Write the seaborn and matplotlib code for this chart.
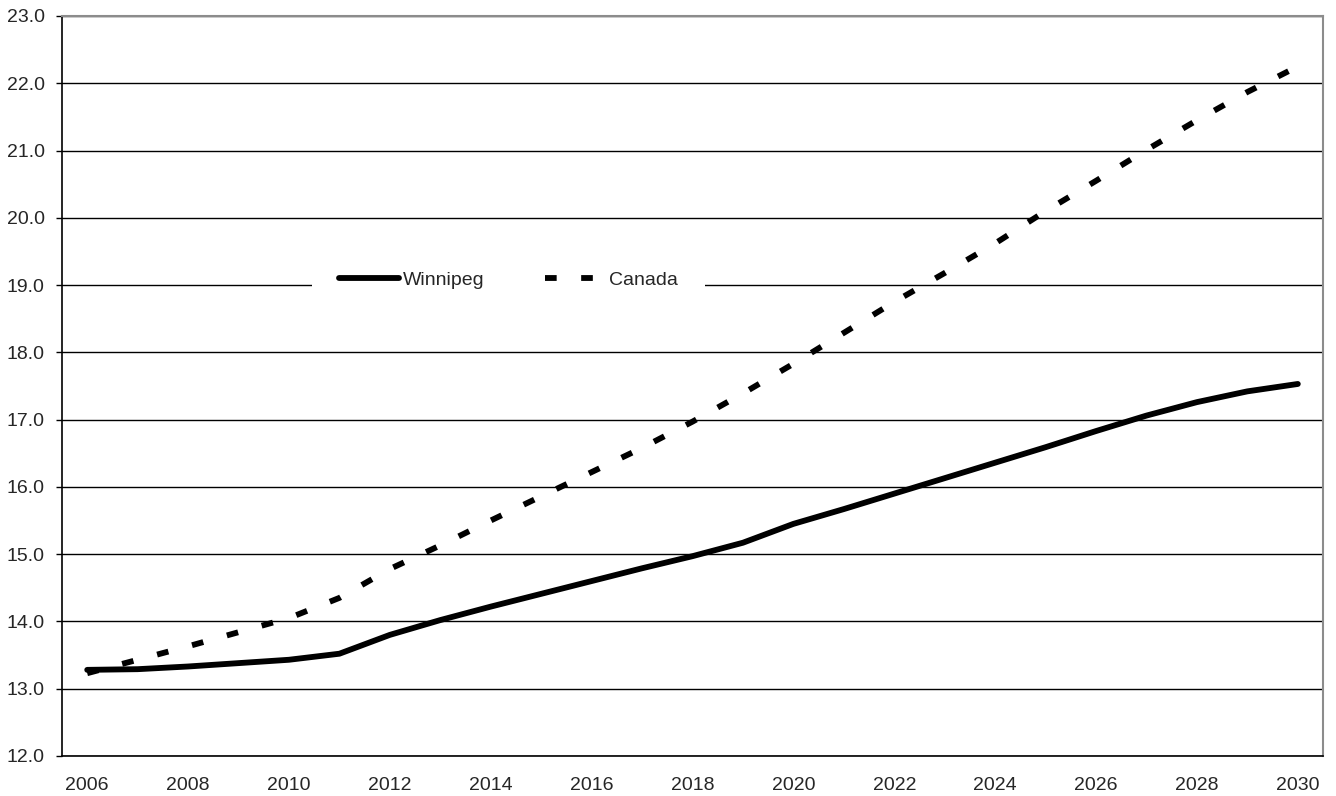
import matplotlib
matplotlib.use("Agg")
import matplotlib.pyplot as plt
from matplotlib.ticker import FixedLocator, FormatStrFormatter
import pandas as pd
import seaborn as sns

years = list(range(2006, 2031))
winnipeg = [13.28, 13.29, 13.33, 13.38, 13.43, 13.52, 13.80, 14.02, 14.22, 14.41,
            14.60, 14.79, 14.97, 15.17, 15.45, 15.67, 15.90, 16.13, 16.36, 16.59,
            16.83, 17.06, 17.26, 17.42, 17.53]
canada = [13.23, 13.43, 13.63, 13.84, 14.05, 14.35, 14.78, 15.13, 15.50, 15.86,
          16.22, 16.58, 16.97, 17.39, 17.83, 18.29, 18.75, 19.18, 19.62, 20.10,
          20.55, 21.01, 21.45, 21.87, 22.25]
series_names = ["Winnipeg", "Canada"]

df = pd.DataFrame({
    "year": years * 2,
    "value": winnipeg + canada,
    "series": [series_names[0]] * len(years) + [series_names[1]] * len(years),
})

sns.set_theme(style="white")
plt.rcParams["font.family"] = ["Liberation Sans", "DejaVu Sans"]

fig = plt.figure(figsize=(13.36, 7.96), dpi=100)
ax = fig.add_axes([0.0464, 0.0503, 0.9439, 0.9296])

sns.lineplot(data=df, x="year", y="value", hue="series", style="series",
             palette={"Winnipeg": "black", "Canada": "black"},
             dashes={"Winnipeg": "", "Canada": (2, 4.2)},
             linewidth=4.2, ax=ax)
for line in ax.lines:
    line.set_solid_capstyle("round")
    line.set_dash_capstyle("butt")

# axes and grid
ax.set_xlim(2005.5, 2030.5)
ax.set_ylim(12, 23)
ax.set_yticks(range(12, 24))
ax.yaxis.set_major_formatter(FormatStrFormatter("%.1f"))
ax.yaxis.grid(True, color="black", linewidth=1)
ax.set_axisbelow(True)

ax.set_xticks(years[::2])
ax.xaxis.set_minor_locator(FixedLocator([y - 0.5 for y in years] + [2030.5]))
ax.tick_params(axis="x", which="major", length=0, labelsize=14, pad=15)
ax.tick_params(axis="x", which="minor", length=4.5, width=1, color="black", direction="out")
ax.tick_params(axis="y", which="major", length=4.5, width=1, color="black",
               direction="out", labelsize=14, pad=8, left=True)
ax.set_xlabel("")
ax.set_ylabel("")

for side in ["left", "bottom"]:
    ax.spines[side].set_color("black")
    ax.spines[side].set_linewidth(1.2)
for side in ["top", "right"]:
    ax.spines[side].set_visible(True)
    ax.spines[side].set_color("#8c8c8c")
    ax.spines[side].set_linewidth(1.5)

sns.move_legend(ax, loc="center", bbox_to_anchor=(0.354, 0.643), ncol=2,
                title=None, frameon=True, fontsize=14, handlelength=3.1,
                handletextpad=0.2, columnspacing=3.1, borderpad=1.4,
                fancybox=False, facecolor="white", edgecolor="none", framealpha=1)

fig.savefig("out.png", dpi=100)
